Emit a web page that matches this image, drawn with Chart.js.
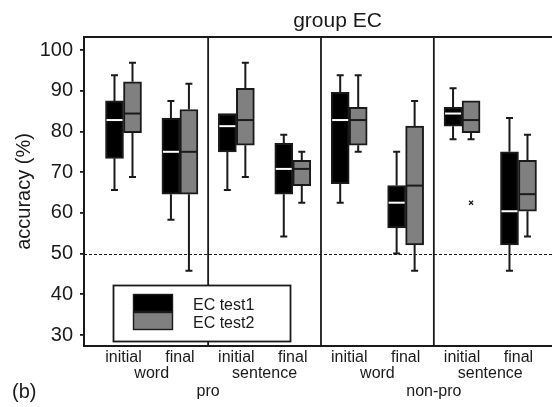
<!DOCTYPE html>
<html>
<head>
<meta charset="utf-8">
<script src="https://cdn.jsdelivr.net/npm/chart.js@4.4.1/dist/chart.umd.min.js"></script>
<style>
  html, body { margin: 0; padding: 0; background: #fff; }
  canvas { display: block; }
</style>
</head>
<body>
<canvas id="chart" width="552" height="407"></canvas>
<script>
// Tick labels on the three rows under the plot
const positionLabels = ['initial', 'final', 'initial', 'final', 'initial', 'final', 'initial', 'final'];
const unitLabels = ['word', 'sentence', 'word', 'sentence'];
const groupLabels = ['pro', 'non-pro'];
const yTicks = [30, 40, 50, 60, 70, 80, 90, 100];
const seriesNames = ['EC test1', 'EC test2'];
const chanceLevel = 50;

// EC test1 box statistics (accuracy %)
const test1Max    = [93.8, 87.5, 84.4, 79.2, 93.8, 75.0, 90.6, 83.3];
const test1Q3     = [87.5, 83.3, 84.4, 77.1, 89.6, 66.7, 85.9, 75.0];
const test1Median = [82.8, 75.0, 81.3, 70.8, 82.8, 62.5, 84.4, 60.4];
const test1Q1     = [73.4, 64.6, 75.0, 64.6, 67.2, 56.3, 81.3, 52.1];
const test1Min    = [65.6, 58.3, 65.6, 54.2, 62.5, 50.0, 78.1, 45.8];

// EC test2 box statistics (accuracy %)
const test2Max    = [96.9, 91.7, 96.9, 75.0, 93.8, 87.5, 87.5, 79.2];
const test2Q3     = [92.2, 85.4, 90.6, 72.9, 85.9, 81.3, 87.5, 72.9];
const test2Median = [84.4, 75.0, 82.8, 70.8, 82.8, 66.7, 82.8, 64.6];
const test2Q1     = [79.7, 64.6, 76.6, 66.7, 76.6, 52.1, 79.7, 60.4];
const test2Min    = [68.8, 45.8, 68.8, 62.5, 75.0, 45.8, 78.1, 54.2];
// outliers: [category index, value]
const test2Outliers = [[6, 62.5]];

const FONT = "'Liberation Sans', Arial, Helvetica, sans-serif";
const INK = '#1a1a1a';
const FILLS = ['#000000', '#808080'];

const stats = [
  { max: test1Max, q3: test1Q3, median: test1Median, q1: test1Q1, min: test1Min, outliers: [] },
  { max: test2Max, q3: test2Q3, median: test2Median, q1: test2Q1, min: test2Min, outliers: test2Outliers }
];

const xMin = -0.7, xMax = 7.594;

function boxData(s) {
  return positionLabels.map((_, i) => ({ x: i, y: [s.q1[i], s.q3[i]] }));
}

// whiskers, medians, outliers, frame, dividers, legend and captions
const boxPlotDecor = {
  id: 'boxPlotDecor',
  beforeDatasetsDraw(chart) {
    const { ctx, chartArea: a, scales: { x, y } } = chart;
    ctx.save();
    ctx.strokeStyle = INK;
    ctx.lineWidth = 1;
    ctx.setLineDash([3, 2]);
    const yc = Math.round(y.getPixelForValue(chanceLevel)) + 0.5;
    ctx.beginPath(); ctx.moveTo(a.left, yc); ctx.lineTo(a.right, yc); ctx.stroke();
    ctx.setLineDash([]);
    ctx.lineWidth = 1.8;
    for (let k = 1; k < unitLabels.length; k++) {
      const px = x.getPixelForValue(k * 2 - 0.5);
      ctx.beginPath(); ctx.moveTo(px, a.top); ctx.lineTo(px, a.bottom); ctx.stroke();
    }
    ctx.restore();
  },
  afterDatasetsDraw(chart) {
    const { ctx, scales: { y } } = chart;
    ctx.save();
    stats.forEach((s, d) => {
      const meta = chart.getDatasetMeta(d);
      meta.data.forEach((bar, i) => {
        const cx = bar.x, half = bar.width / 2;
        ctx.strokeStyle = INK;
        ctx.lineWidth = 2;
        const whisker = (from, to) => {
          if (from === to) return;
          const y0 = y.getPixelForValue(from), y1 = y.getPixelForValue(to);
          ctx.beginPath();
          ctx.moveTo(cx, y0); ctx.lineTo(cx, y1);
          ctx.moveTo(cx - 3.5, y1); ctx.lineTo(cx + 3.5, y1);
          ctx.stroke();
        };
        whisker(s.q3[i], s.max[i]);
        whisker(s.q1[i], s.min[i]);
        ctx.strokeStyle = d === 0 ? '#ffffff' : INK;
        ctx.lineWidth = 2;
        const ym = y.getPixelForValue(s.median[i]);
        ctx.beginPath();
        ctx.moveTo(cx - half + 1, ym); ctx.lineTo(cx + half - 1, ym);
        ctx.stroke();
      });
      s.outliers.forEach(([i, v]) => {
        const bar = meta.data[i];
        const px = bar.x, py = y.getPixelForValue(v);
        ctx.strokeStyle = INK;
        ctx.lineWidth = 1.3;
        ctx.beginPath();
        ctx.moveTo(px - 2, py - 2); ctx.lineTo(px + 2, py + 2);
        ctx.moveTo(px + 2, py - 2); ctx.lineTo(px - 2, py + 2);
        ctx.stroke();
      });
    });
    ctx.restore();
  },
  afterDraw(chart) {
    const { ctx, chartArea: a } = chart;
    ctx.save();
    // top edge of the frame
    ctx.strokeStyle = INK;
    ctx.lineWidth = 2;
    ctx.beginPath(); ctx.moveTo(a.left - 1, a.top); ctx.lineTo(a.right, a.top); ctx.stroke();

    // legend
    const lx = 113, ly = 285, lw = 177, lh = 56;
    ctx.fillStyle = '#fff';
    ctx.fillRect(lx, ly, lw, lh);
    ctx.lineWidth = 1.8;
    ctx.strokeRect(lx + 0.5, ly + 0.5, lw, lh);
    const sx = 133, sy = 294, sw = 40, sh = 18;
    seriesNames.forEach((name, k) => {
      ctx.fillStyle = FILLS[k];
      ctx.fillRect(sx, sy + k * sh, sw, sh);
      ctx.lineWidth = 1.4;
      ctx.strokeStyle = INK;
      ctx.strokeRect(sx + 0.5, sy + k * sh + 0.5, sw - 1, sh - 1);
      ctx.fillStyle = INK;
      ctx.font = '16px ' + FONT;
      ctx.textAlign = 'left';
      ctx.textBaseline = 'middle';
      ctx.fillText(name, 193, 306 + k * 18);
    });

    // chart caption and panel tag
    ctx.fillStyle = INK;
    ctx.font = '21px ' + FONT;
    ctx.textAlign = 'center';
    ctx.textBaseline = 'alphabetic';
    ctx.fillText('group EC', 337.5, 27);
    ctx.font = '20px ' + FONT;
    ctx.textAlign = 'left';
    ctx.textBaseline = 'middle';
    ctx.fillText('(b)', 12, 392);
    ctx.restore();
  }
};

function labelAxis(values, labels, weight, height, padding) {
  return {
    type: 'linear',
    position: 'bottom',
    offset: false,
    min: xMin,
    max: xMax,
    weight: weight,
    afterBuildTicks: ax => { ax.ticks = values.map(v => ({ value: v })); },
    afterFit: ax => { ax.height = height; },
    grid: { display: false, drawTicks: false, tickLength: 0, offset: false },
    border: { display: false },
    ticks: {
      autoSkip: false,
      maxRotation: 0,
      padding: padding,
      color: INK,
      font: { family: FONT, size: 16 },
      callback: (v, idx) => labels[idx]
    }
  };
}

const rowAxis1 = labelAxis(positionLabels.map((_, i) => i), positionLabels, 0, 16, 2);
rowAxis1.border = { display: true, color: INK, width: 2 };
const rowAxis2 = labelAxis(unitLabels.map((_, k) => k * 2 + 0.5), unitLabels, 1, 18, 2);
const rowAxis3 = labelAxis(groupLabels.map((_, k) => k * 4 + 1.5), groupLabels, 2, 27, 2);

new Chart(document.getElementById('chart'), {
  type: 'bar',
  data: {
    datasets: stats.map((s, d) => ({
      label: seriesNames[d],
      data: boxData(s),
      backgroundColor: FILLS[d],
      borderColor: INK,
      borderWidth: 2,
      borderSkipped: false,
      barThickness: 18,
      xAxisID: 'x',
      yAxisID: 'y'
    }))
  },
  options: {
    responsive: false,
    animation: false,
    events: [],
    devicePixelRatio: 1,
    layout: { padding: { top: 37, right: 0, bottom: 0, left: 0 } },
    plugins: { legend: { display: false }, tooltip: { enabled: false }, title: { display: false } },
    scales: {
      x: rowAxis1,
      xUnit: rowAxis2,
      xGroup: rowAxis3,
      y: {
        type: 'linear',
        position: 'left',
        min: 27.3,
        max: 103.2,
        afterBuildTicks: ax => { ax.ticks = yTicks.map(v => ({ value: v })); },
        afterFit: ax => { ax.width = 84; },
        grid: { display: true, drawOnChartArea: false, drawTicks: true, tickLength: 4, color: INK, lineWidth: 1.8 },
        border: { display: true, color: INK, width: 2 },
        ticks: { color: INK, padding: 7, font: { family: FONT, size: 20 } },
        title: {
          display: true,
          text: 'accuracy (%)',
          color: INK,
          font: { family: FONT, size: 20 },
          padding: { top: 12, bottom: 0 }
        }
      }
    }
  },
  plugins: [boxPlotDecor]
});
</script>
</body>
</html>
